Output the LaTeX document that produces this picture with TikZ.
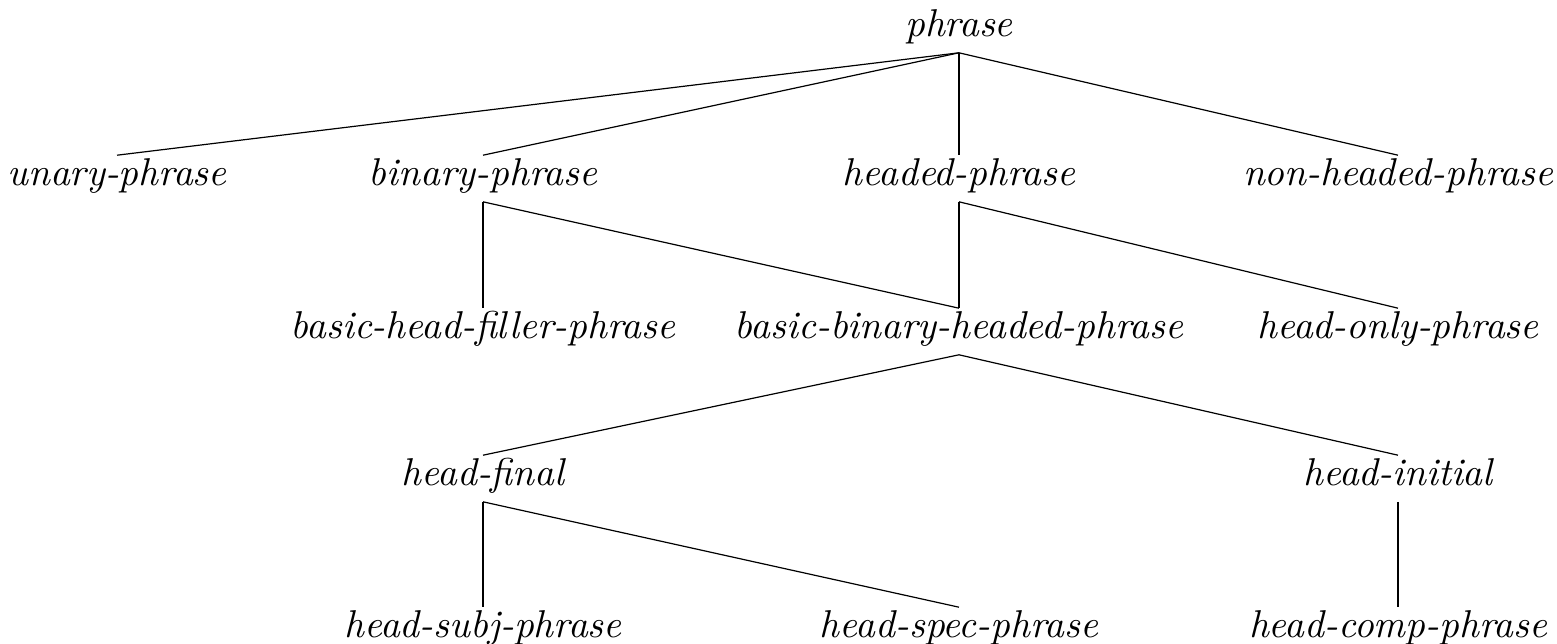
\documentclass[tikz,border=0pt]{standalone}
\usepackage{tikz}
\usetikzlibrary{positioning}
\tikzstyle{every node}+=[inner sep=0pt]
\tikzstyle{type} = [font=\itshape\fontsize{9.7}{11}\selectfont, anchor=base, text height=7.25pt, text depth=4pt]
\tikzstyle{line} = [draw, line width=0.3pt]

\begin{document}
\begin{tikzpicture}[x=0.25pt, y=-0.25pt]
            \useasboundingbox (0,0) rectangle (1557,644);
            % Place nodes
            \node [type] (phrase) at (959,36) {phrase};
            \node [type] (unary) at (117,185) {unary-phrase};
            \node [type] (binary) at (483,185) {binary-phrase};
            \node [type] (headed) at (959,185) {headed-phrase};
            \node [type] (nonheaded) at (1398,185) {non-headed-phrase};
            \node [type] (filler) at (483,338) {basic-head-filler-phrase};
            \node [type] (bbhp) at (959,338) {basic-binary-headed-phrase};
            \node [type] (honly) at (1398,338) {head-only-phrase};
            \node [type] (hfinal) at (483,485) {head-final};
            \node [type] (hinitial) at (1398,485) {head-initial};
            \node [type] (hsubj) at (483,637) {head-subj-phrase};
            \node [type] (hspec) at (959,637) {head-spec-phrase};
            \node [type] (hcomp) at (1398,637) {head-comp-phrase};
            % Draw edges
            \path [line] (phrase.south) -- (unary.north);
            \path [line] (phrase.south) -- (binary.north);
            \path [line] (phrase.south) -- (headed.north);
            \path [line] (phrase.south) -- (nonheaded.north);
            \path [line] (binary.south) -- (filler.north);
            \path [line] (binary.south) -- (bbhp.north);
            \path [line] (headed.south) -- (bbhp.north);
            \path [line] (headed.south) -- (honly.north);
            \path [line] (bbhp.south) -- (hfinal.north);
            \path [line] (bbhp.south) -- (hinitial.north);
            \path [line] (hfinal.south) -- (hsubj.north);
            \path [line] (hfinal.south) -- (hspec.north);
            \path [line] (hinitial.south) -- (hcomp.north);
\end{tikzpicture}
\end{document}
